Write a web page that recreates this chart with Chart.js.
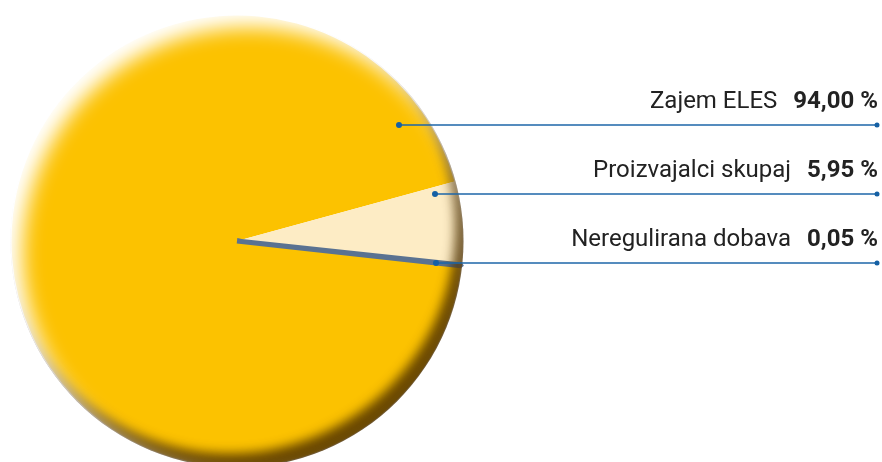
<!DOCTYPE html>
<html>
<head>
<meta charset="utf-8">
<script src="https://cdn.jsdelivr.net/npm/chart.js@4.4.1/dist/chart.umd.min.js"></script>
<style>
    body { margin: 0; background: #fff; }
    #wrap { width: 882px; height: 462px; overflow: hidden; position: relative; }
</style>
</head>
<body>
<div id="wrap"><canvas id="share" width="882" height="484"></canvas></div>
<script>
// data
var labels = ['Zajem ELES', 'Proizvajalci skupaj', 'Neregulirana dobava'];
var values = [94.00, 5.95, 0.05];
var valueText = ['94,00 %', '5,95 %', '0,05 %'];
var colors = ['#fcc200', '#fdecc5', '#5a7291'];

// where the leader lines sit (layout only)
var leaderY = [125, 194, 263];
var leaderX = [399, 435, 436];

var edgeShade = {     // fake bevel round the pie: light top-left, dark bottom-right
    id: 'edgeShade',
    afterDatasetsDraw: function(chart) {
        var arc = chart.getDatasetMeta(0).data[0];
        var ctx = chart.ctx;
        var cx = arc.x, cy = arc.y, r = arc.outerRadius + 1;
        var far = 5000;
        function inner(color, dx, dy, blur) {
            ctx.save();
            ctx.beginPath();
            ctx.arc(cx, cy, r, 0, Math.PI * 2);
            ctx.clip();
            ctx.beginPath();
            ctx.rect(cx - r * 3 - far, cy - r * 3, r * 6, r * 6);
            ctx.arc(cx - far, cy, r, 0, Math.PI * 2, true);
            ctx.shadowColor = color;
            ctx.shadowBlur = blur;
            ctx.shadowOffsetX = far + dx;
            ctx.shadowOffsetY = dy;
            ctx.fillStyle = '#000';
            ctx.fill();
            ctx.restore();
        }
        inner('rgba(80,50,0,0.85)', -8, -14, 11);
        inner('rgba(255,255,255,1)', 12, 13, 20);
    }
};

var leaders = {
    id: 'leaders',
    afterDraw: function(chart) {
        var ctx = chart.ctx;
        var right = 877;
        ctx.save();
        for (var i = 0; i < labels.length; i++) {
            var y = leaderY[i];
            ctx.strokeStyle = '#1d66a8';
            ctx.lineWidth = 1.5;
            ctx.beginPath();
            ctx.moveTo(leaderX[i], y);
            ctx.lineTo(right, y);
            ctx.stroke();
            ctx.fillStyle = '#1560a4';
            ctx.beginPath();
            ctx.arc(leaderX[i], y, 3, 0, Math.PI * 2);
            ctx.fill();
            ctx.beginPath();
            ctx.arc(right, y, 2.5, 0, Math.PI * 2);
            ctx.fill();

            // value in bold, label left of it
            ctx.fillStyle = '#222';
            ctx.textAlign = 'right';
            ctx.textBaseline = 'alphabetic';
            ctx.font = 'bold 24px Roboto';
            ctx.fillText(valueText[i], 878, y - 17);
            var w = ctx.measureText(valueText[i]).width;
            ctx.font = '24px Roboto';
            ctx.fillText(labels[i], 878 - w - 16, y - 17);
        }
        ctx.restore();
    }
};

var chart = new Chart(document.getElementById('share'), {
    type: 'pie',
    data: {
        labels: labels,
        datasets: [{
            data: values,
            backgroundColor: colors,
            borderColor: colors,
            borderWidth: [0, 0, 5],
            hoverBorderWidth: [0, 0, 5]
        }]
    },
    options: {
        responsive: false,
        animation: false,
        devicePixelRatio: 1,
        rotation: 96.3,
        layout: {
            padding: { left: 9, top: 13, right: 417, bottom: 15 }
        },
        plugins: {
            legend: { display: false },
            tooltip: { enabled: false }
        }
    },
    plugins: [edgeShade, leaders]
});
</script>
</body>
</html>
